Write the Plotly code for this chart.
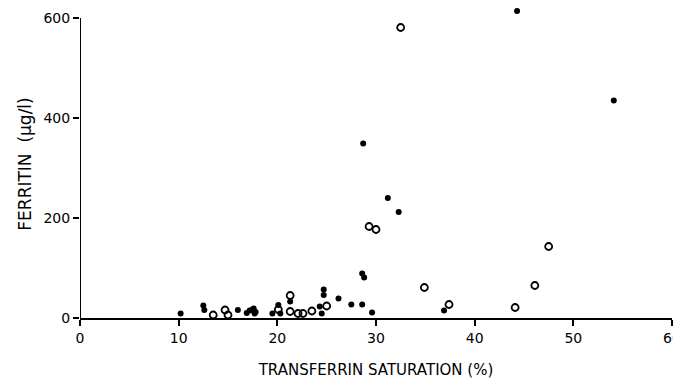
import plotly.graph_objects as go

# Filled circles
filled_x = [10.2, 12.5, 12.6, 16.0, 16.9, 17.2, 17.4, 17.6, 17.7, 17.8, 19.5, 20.1, 20.3,
            21.3, 24.3, 24.5, 24.7, 24.7, 26.2, 27.5, 28.6, 28.6, 28.8, 28.7, 29.6,
            31.2, 32.3, 36.9, 44.3, 54.1]
filled_y = [9, 25, 16, 16, 10, 15, 16, 19, 9, 12, 9, 26, 9,
            33, 23, 9, 57, 46, 39, 27, 27, 89, 81, 349, 11,
            240, 212, 15, 614, 435]

# Open circles
open_x = [13.5, 14.7, 15.0, 20.1, 21.3, 21.3, 22.1, 22.6, 23.5, 25.0,
          29.3, 30.0, 32.5, 34.9, 37.4, 44.1, 46.1, 47.5]
open_y = [6, 16, 6, 17, 45, 13, 9, 9, 14, 24,
          183, 177, 581, 61, 27, 21, 65, 143]

x_ticks = [0, 10, 20, 30, 40, 50, 60]
y_ticks = [0, 200, 400, 600]

fig = go.Figure()
fig.add_trace(go.Scatter(
    x=filled_x, y=filled_y, mode="markers",
    marker=dict(symbol="circle", size=6, color="black"),
    cliponaxis=False, showlegend=False))
fig.add_trace(go.Scatter(
    x=open_x, y=open_y, mode="markers",
    marker=dict(symbol="circle-open", size=7, color="black", line=dict(width=1.8)),
    cliponaxis=False, showlegend=False))

# y axis line only up to the top tick
fig.add_shape(type="line", xref="x", yref="y", x0=0, x1=0, y0=0, y1=y_ticks[-1],
              line=dict(color="black", width=2))

font = dict(family="DejaVu Sans", color="black")

# last x tick label drawn as an annotation so it is not cut at the edge
fig.add_annotation(x=x_ticks[-1], xref="x", y=0, yref="paper", yshift=-10,
                   text=str(x_ticks[-1]), showarrow=False, xanchor="center", yanchor="top",
                   font=dict(size=14, **font))

fig.update_layout(
    width=681, height=375,
    margin=dict(l=72, r=17, t=2, b=65),
    plot_bgcolor="white", paper_bgcolor="white",
    font=dict(family="DejaVu Sans", size=14, color="black"),
)
fig.update_xaxes(
    range=[0, 60], tickvals=x_ticks,
    ticktext=[str(v) for v in x_ticks[:-1]] + [""],
    automargin=False, ticklabeloverflow="allow",
    showgrid=False, zeroline=False, showline=True, linecolor="black", linewidth=2,
    ticks="outside", ticklen=6, tickwidth=1.5, tickcolor="black",
    tickfont=dict(size=14, **font),
    title=dict(text="TRANSFERRIN SATURATION (%)", font=dict(size=15, **font), standoff=20),
)
fig.update_yaxes(
    range=[0, 616], tickvals=y_ticks, ticktext=[str(v) for v in y_ticks],
    automargin=False, ticklabeloverflow="allow",
    showgrid=False, zeroline=False, showline=False,
    ticks="outside", ticklen=6, tickwidth=1.5, tickcolor="black",
    tickfont=dict(size=14, **font),
    title=dict(text="FERRITIN\u00a0\u00a0(µg/l)", font=dict(size=17, **font), standoff=7),
)

fig.write_html("out.html")
